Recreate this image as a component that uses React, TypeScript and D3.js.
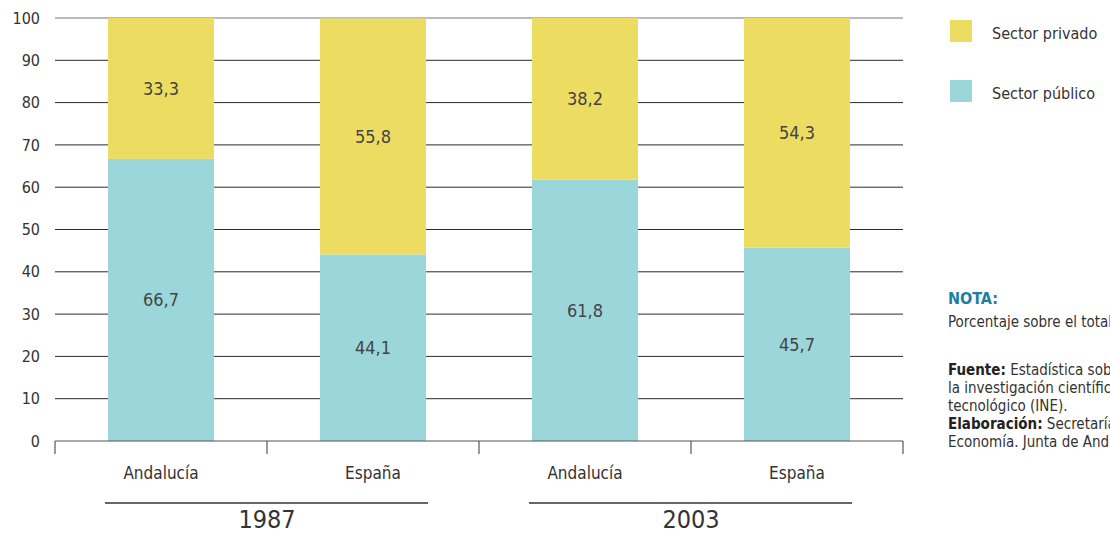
import React from "react";
import * as d3 from "d3";

const categories = ["Andalucía 1987", "España 1987", "Andalucía 2003", "España 2003"];
const categoryLabels = ["Andalucía", "España", "Andalucía", "España"];
const years = ["1987", "2003"];
const publico = [66.7, 44.1, 61.8, 45.7];
const privado = [33.3, 55.8, 38.2, 54.3];
const yTicks = [0, 10, 20, 30, 40, 50, 60, 70, 80, 90, 100];
const seriesNames = ["Sector privado", "Sector público"];

const W = 1110;
const H = 534;
const FONT = "'Liberation Sans Narrow', 'DejaVu Sans Condensed', 'Roboto Condensed', Roboto, 'Liberation Sans', sans-serif";
const YELLOW = "#ECDD62";
const TEAL = "#9BD7DA";
const TEXT = "#333";

export default function App() {
  const x0 = 55, x1 = 903;
  const y = d3.scaleLinear().domain([0, 100]).range([441, 18]);
  const x = d3.scaleBand().domain(categories).range([x0, x1]).paddingInner(0.5).paddingOuter(0.25);
  const groupX = d3.scaleBand().domain(years).range([x0, x1]);

  const rows = categories.map((c, i) => ({ cat: c, publico: publico[i], privado: privado[i] }));
  const stack = d3.stack<any>().keys(["publico", "privado"])(rows);
  const colors: Record<string, string> = { publico: TEAL, privado: YELLOW };

  const tickXs = [x0, ...categories.map((c) => (x(c)! + x.bandwidth() + x.step() * 0.25))];

  return (
    <svg width={W} height={H} style={{ position: "absolute", left: 0, top: 0, background: "#fff" }} fontFamily={FONT}>
      {yTicks.filter((t) => t > 0).map((t) => (
        <line key={t} x1={x0} x2={x1} y1={y(t)} y2={y(t)} stroke={t === 100 ? "#777" : "#2a2a2a"} strokeWidth={1} />
      ))}
      {yTicks.map((t) => (
        <text key={"l" + t} x={40} y={y(t)} dy="0.35em" textAnchor="end" fontSize={16} fill={TEXT}>
          {t}
        </text>
      ))}
      {stack.map((s) =>
        s.map((d, i) => (
          <rect
            key={s.key + i}
            x={x(categories[i])}
            width={x.bandwidth()}
            y={y(d[1])}
            height={y(d[0]) - y(d[1])}
            fill={colors[s.key]}
          />
        ))
      )}
      {stack.map((s) =>
        s.map((d, i) => (
          <text
            key={"v" + s.key + i}
            x={x(categories[i])! + x.bandwidth() / 2}
            y={(y(d[0]) + y(d[1])) / 2}
            dy="0.35em"
            textAnchor="middle"
            fontSize={18}
            fill="#444"
          >
            {d3.format(".1f")(d[1] - d[0]).replace(".", ",")}
          </text>
        ))
      )}
      <line x1={x0} x2={x1} y1={y(0)} y2={y(0)} stroke="#555" strokeWidth={1.2} />
      {tickXs.map((tx, i) => (
        <line key={"t" + i} x1={tx} x2={tx} y1={y(0)} y2={y(0) + 13} stroke="#555" strokeWidth={1.2} />
      ))}
      {categories.map((c, i) => (
        <text key={"c" + i} x={x(c)! + x.bandwidth() / 2} y={473} dy="0.35em" textAnchor="middle" fontSize={17} fill={TEXT}>
          {categoryLabels[i]}
        </text>
      ))}
      {years.map((yr) => {
        const cx = groupX(yr)! + groupX.bandwidth() / 2;
        return (
          <g key={yr}>
            <line x1={cx - 162} x2={cx + 161} y1={503} y2={503} stroke="#333" strokeWidth={1.5} />
            <text x={cx} y={519} dy="0.35em" textAnchor="middle" fontSize={25} fill={TEXT}>
              {yr}
            </text>
          </g>
        );
      })}
      {seriesNames.map((n, i) => (
        <g key={n}>
          <rect x={950} y={20 + i * 60} width={22} height={22} fill={i === 0 ? YELLOW : TEAL} />
          <text x={992} y={33 + i * 60} dy="0.35em" fontSize={16} fill={TEXT}>
            {n}
          </text>
        </g>
      ))}
      <text x={948} y={298} dy="0.35em" fontSize={16} fontWeight="bold" fill="#1C7FA3">NOTA:</text>
      <text x={948} y={322} dy="0.35em" fontSize={15} fill={TEXT}>Porcentaje sobre el total.</text>
      <text x={948} y={370} dy="0.35em" fontSize={15} fill={TEXT}>
        <tspan fontWeight="bold" fill="#222">Fuente:</tspan> Estadística sobre actividades en
      </text>
      <text x={948} y={388} dy="0.35em" fontSize={15} fill={TEXT}>la investigación científica y desarrollo</text>
      <text x={948} y={406} dy="0.35em" fontSize={15} fill={TEXT}>tecnológico (INE).</text>
      <text x={948} y={424} dy="0.35em" fontSize={15} fill={TEXT}>
        <tspan fontWeight="bold" fill="#222">Elaboración:</tspan> Secretaría General de
      </text>
      <text x={948} y={442} dy="0.35em" fontSize={15} fill={TEXT}>Economía. Junta de Andalucía.</text>
    </svg>
  );
}
